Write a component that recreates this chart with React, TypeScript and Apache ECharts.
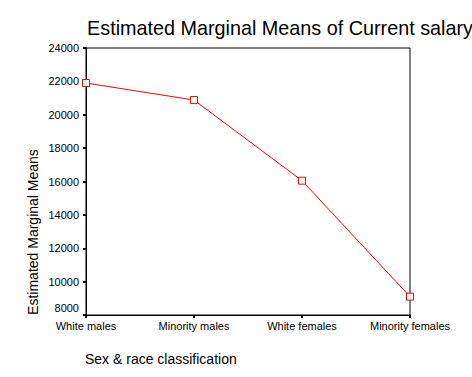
import React, { useEffect, useRef } from "react";
import * as echarts from "echarts";

const categories = ["White males", "Minority males", "White females", "Minority females"];
const meanValues = [21900, 20880, 16050, 9100];
const yTicks = [8000, 10000, 12000, 14000, 16000, 18000, 20000, 22000, 24000];
const titleText = "Estimated Marginal Means of Current salary";
const yAxisTitle = "Estimated Marginal Means";
const xAxisTitle = "Sex & race classification";

export default function App() {
  const ref = useRef<HTMLDivElement>(null);
  useEffect(() => {
    if (!ref.current) return;
    const chart = echarts.init(ref.current, null, { renderer: "svg" });
    const font = "Liberation Sans, Arial, sans-serif";
    chart.setOption({
      animation: false,
      backgroundColor: "#ffffff",
      title: {
        text: titleText,
        left: 275,
        top: 13,
        textAlign: "center",
        textStyle: { fontFamily: font, fontSize: 19.8, fontWeight: "normal", color: "#000" },
      },
      grid: {
        left: 86,
        right: 62,
        top: 48,
        bottom: 62,
        show: true,
        borderColor: "#000",
        borderWidth: 1,
        backgroundColor: "transparent",
      },
      xAxis: {
        type: "category",
        data: categories,
        boundaryGap: false,
        axisLine: { show: true, lineStyle: { color: "#000", width: 1 } },
        axisTick: { show: true, length: 3, alignWithLabel: true, lineStyle: { color: "#000", width: 2 } },
        axisLabel: {
          interval: 0,
          margin: 5,
          fontFamily: font,
          fontSize: 11,
          color: "#000",
        },
        splitLine: { show: false },
      },
      yAxis: {
        type: "value",
        min: yTicks[0],
        max: yTicks[yTicks.length - 1],
        interval: 2000,
        axisLine: { show: true, lineStyle: { color: "#000", width: 1 } },
        axisTick: { show: true, length: 3, lineStyle: { color: "#000", width: 2 } },
        axisLabel: {
          margin: 7,
          fontFamily: font,
          fontSize: 11,
          color: "#000",
          formatter: (v: number) => (v === yTicks[0] ? "{low|" + v + "}" : String(v)),
          rich: {
            low: { fontFamily: font, fontSize: 11, color: "#000", padding: [0, 0, 14, 0] },
          },
        },
        splitLine: { show: false },
      },
      graphic: [
        {
          type: "text",
          x: 33,
          y: 232,
          rotation: Math.PI / 2,
          style: {
            text: yAxisTitle,
            fontFamily: font,
            fontSize: 14,
            fill: "#000",
            textAlign: "center",
            textVerticalAlign: "middle",
          },
        },
        {
          type: "text",
          x: 85,
          y: 359,
          style: {
            text: xAxisTitle,
            fontFamily: font,
            fontSize: 14,
            fill: "#000",
            textAlign: "left",
            textVerticalAlign: "middle",
          },
        },
      ],
      series: [
        {
          type: "line",
          data: meanValues,
          symbol: "rect",
          symbolSize: 7,
          showAllSymbol: true,
          lineStyle: { color: "#ff0000", width: 1 },
          itemStyle: { color: "#ffffff", borderColor: "#ff0000", borderWidth: 1 },
        },
      ],
    });
    return () => chart.dispose();
  }, []);
  return <div ref={ref} style={{ width: 472, height: 377, position: "absolute", left: 0, top: 0 }} />;
}
